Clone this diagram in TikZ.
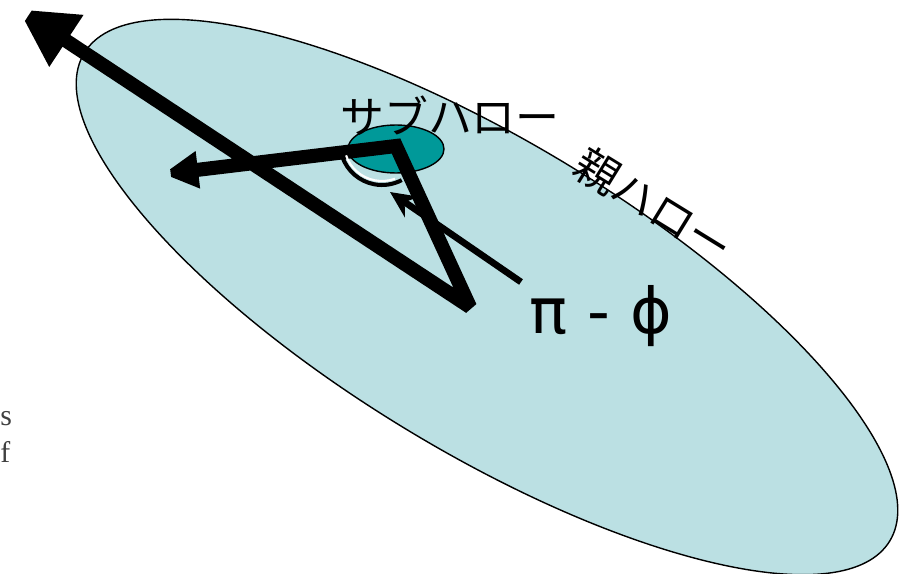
\documentclass[tikz,border=0pt]{standalone}
\usepackage{fontspec}
\setmainfont{Liberation Serif}
\newfontfamily\jpfont{Noto Sans CJK JP}
\newfontfamily\symfont{DejaVu Sans}
\usetikzlibrary{shapes.geometric, arrows.meta}
\definecolor{halofill}{HTML}{BBE0E3}
\definecolor{subfill}{HTML}{009999}
\tikzstyle{parenthalo} = [ellipse, draw=black, line width=0.8pt, fill=halofill, minimum width=18.84cm, minimum height=6.2cm, inner sep=0pt, rotate=-31.2]
\tikzstyle{subhalo} = [ellipse, draw=black, line width=0.8pt, fill=subfill, minimum width=1.92cm, minimum height=0.96cm, inner sep=0pt]
\tikzstyle{arm} = [line width=8pt, line join=miter, miter limit=2, {Triangle[length=20pt,width=20pt]}-{Triangle[length=33pt,width=33pt]}]
\tikzstyle{thinarrow} = [line width=3.8pt, -{Stealth[length=15pt,width=14pt]}]
\tikzstyle{anglearc} = [line width=2.3pt]
\tikzstyle{jplabel} = [font=\jpfont\fontsize{25}{30}\selectfont, inner sep=0pt]
\tikzstyle{fragment} = [font=\fontsize{17}{20}\selectfont, text=black!75, inner sep=0pt, anchor=base west]

\begin{document}
\begin{tikzpicture}[x=0.02cm, y=-0.02cm]
    \useasboundingbox (0,0) rectangle (909,574);
    % halos
    \node (parent) [parenthalo] at (487,297) {};
    \node (sub) [subhalo] at (396,149) {};
    % points of the vectors
    \coordinate (lefttip) at (163,174);
    \coordinate (apex) at (396,146);
    \coordinate (base) at (470,307);
    \coordinate (uptip) at (18,9);
    \coordinate (tail) at (521,282);
    \coordinate (head) at (390,192);
    \coordinate (arcc) at (382,143);

    \draw [arm] (lefttip) -- (apex) -- (base) -- (uptip);
    \draw [anglearc] ([shift={(161:42)}]arcc) arc [start angle=161, end angle=62, radius=42];
    \draw [white, line width=1.2pt] ([shift={(161:38)}]arcc) arc [start angle=161, end angle=70, radius=38];
    \draw [thinarrow] (tail) -- (head);

    % labels
    \node (sublabel) [jplabel] at (450,116) {サブハロー};
    \node (parentlabel) [jplabel, rotate=-31.6] at (654,205) {親ハロー};
    \node (angle) [font=\symfont\fontsize{36}{40}\selectfont, inner sep=0pt] at (601,316) {π - ϕ};
    \node (frag1) [fragment] at (0,425) {s};
    \node (frag2) [fragment] at (0,462) {f};
\end{tikzpicture}
\end{document}
